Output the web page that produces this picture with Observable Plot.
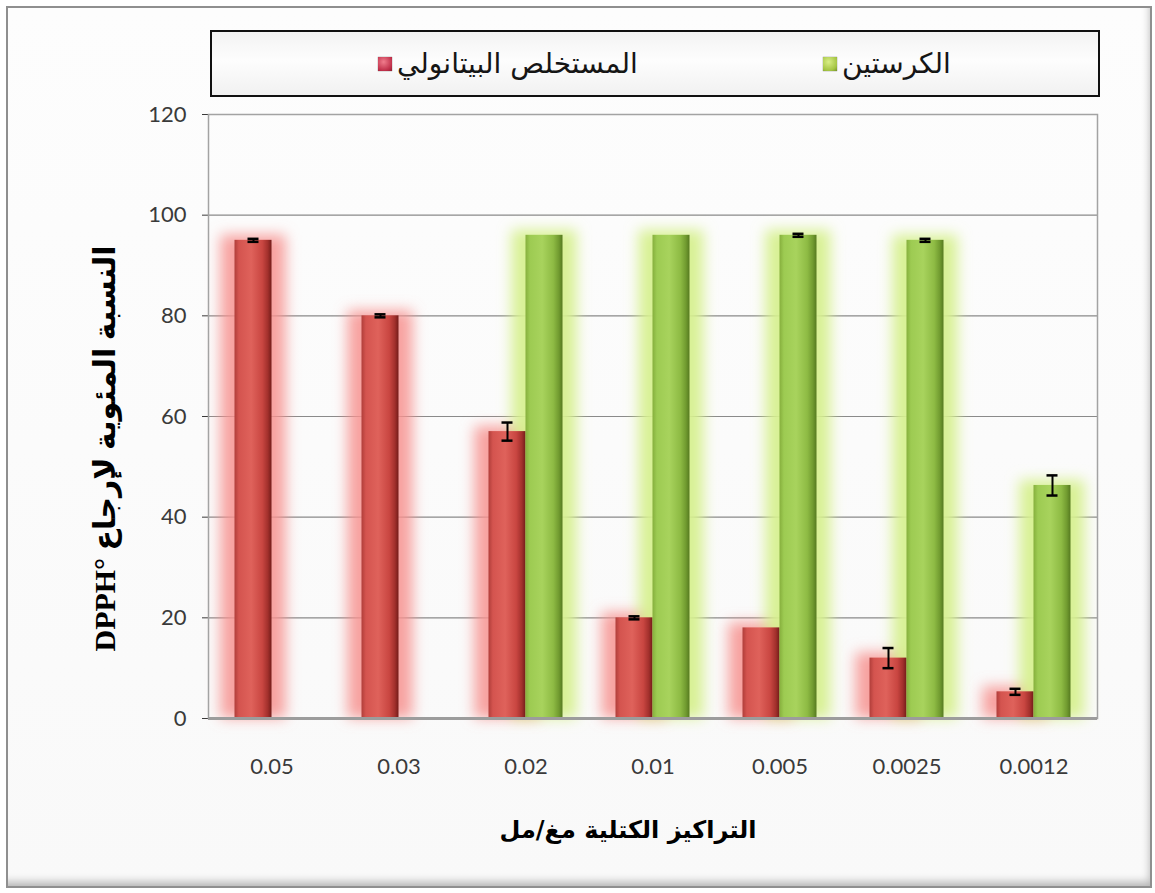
<!DOCTYPE html>
<html>
<head>
<meta charset="utf-8">
<script src="https://cdn.jsdelivr.net/npm/d3@7"></script>
<script src="https://cdn.jsdelivr.net/npm/@observablehq/plot@0.6"></script>
<style>
  html, body { margin: 0; padding: 0; background: #fff; }
  #chart { position: relative; width: 1155px; height: 893px; overflow: hidden; background: #fff; }
  #frame {
    position: absolute; left: 6px; top: 6px; width: 1142px; height: 878px;
    border: 2px solid #8f8f8f;
    background: linear-gradient(#fdfdfd, #f9f9f9);
    box-shadow: inset -5px -9px 9px -5px rgba(0,0,0,0.28);
  }
  #legend {
    position: absolute; left: 210px; top: 30px; width: 886px; height: 63px;
    border: 2px solid #111;
    background: linear-gradient(#f3f3f3, #fdfdfd 45%, #f1f1f1);
    font-family: "DejaVu Sans", sans-serif; font-size: 28px; color: #151515;
  }
  #legend .item { position: absolute; top: 0; height: 63px; display: flex; align-items: center; gap: 5px; white-space: nowrap; }
  #legend .sw { width: 14px; height: 14px; display: inline-block; box-shadow: 0 0 1px rgba(0,0,0,0.6); }
  #legend .sw.s0 { background: radial-gradient(circle at 40% 35%, #f07c8c, #c0304a 70%, #8e1f33); }
  #legend .sw.s1 { background: radial-gradient(circle at 40% 35%, #d9ee86, #a4c443 70%, #74922a); }
  #plot { position: absolute; left: 0; top: 0; }
</style>
</head>
<body>
<div id="chart">
  <div id="frame"></div>
  <div id="plot"></div>
  <div id="legend"></div>
</div>
<script>
// Mass concentrations (mg/mL), left to right
const concentrations = ["0.05", "0.03", "0.02", "0.01", "0.005", "0.0025", "0.0012"];

// Series names
const seriesNames = ["المستخلص البيتانولي", "الكرستين"];

// Butanol extract: % DPPH reduction and standard deviation
const butanolMean = [95, 80, 57, 20, 18, 12, 5.3];
const butanolSD   = [0.3, 0.3, 1.8, 0.3, 0, 2, 0.6];

// Quercetin: % DPPH reduction and standard deviation (not measured at the two highest concentrations)
const quercetinMean = [null, null, 96, 96, 96, 95, 46.3];
const quercetinSD   = [null, null, 0, 0, 0.3, 0.3, 2];

const yTicks = [0, 20, 40, 60, 80, 100, 120];
const xTitle = "التراكيز الكتلية مغ/مل";
const yTitle = "DPPH° النسبة المئوية لإرجاع";

const rows = concentrations.map((c, i) => ({
  c, b: butanolMean[i], bsd: butanolSD[i], q: quercetinMean[i], qsd: quercetinSD[i]
}));
const qRows = rows.filter(d => d.q != null);
const bErr = rows.filter(d => d.bsd > 0);
const qErr = rows.filter(d => d.qsd > 0);

// Geometry inside each concentration band: two touching bars centred on the band
const half = 63.5, barW = 37, capW = 11, glowPad = 14;

const chart = Plot.plot({
  width: 1155,
  height: 893,
  marginLeft: 208,
  marginRight: 58,
  marginTop: 114,
  marginBottom: 175,
  style: { fontFamily: "Lato, sans-serif", fontSize: "22px", color: "#3a3a3a", background: "transparent" },
  x: { domain: concentrations, padding: 0, tickSize: 0, tickPadding: 40, label: null },
  y: { domain: [0, 120], ticks: yTicks, tickSize: 6, tickPadding: 16, label: null },
  marks: [
    Plot.ruleY(yTicks.slice(1), { stroke: "#8a8a8a", strokeWidth: 1.2 }),
    // soft halos behind the bars
    Plot.barY(rows, { x: "c", y: d => d.b + 1, fill: "#f7928f", fillOpacity: 0.85,
      insetLeft: half - barW - glowPad, insetRight: half - glowPad, ariaDescription: "glow" }),
    Plot.barY(qRows, { x: "c", y: d => d.q + 1, fill: "#d6f08e", fillOpacity: 0.95,
      insetLeft: half - glowPad, insetRight: half - barW - glowPad, ariaDescription: "glow" }),
    Plot.frame({ stroke: "#a3a3a3", strokeWidth: 1.5 }),
    Plot.barY(rows, { x: "c", y: "b", fill: "url(#barRed)", insetLeft: half - barW, insetRight: half }),
    Plot.barY(qRows, { x: "c", y: "q", fill: "url(#barGreen)", insetLeft: half, insetRight: half - barW }),
    Plot.ruleY([0], { stroke: "#9c9c9c", strokeWidth: 3 }),
    // error bars
    Plot.ruleX(bErr, { x: "c", y1: d => d.b - d.bsd, y2: d => d.b + d.bsd, dx: -barW / 2, stroke: "#000", strokeWidth: 2 }),
    Plot.tickY(bErr, { x: "c", y: d => d.b - d.bsd, stroke: "#000", strokeWidth: 2.5,
      insetLeft: half - barW / 2 - capW / 2, insetRight: half + barW / 2 - capW / 2 }),
    Plot.tickY(bErr, { x: "c", y: d => d.b + d.bsd, stroke: "#000", strokeWidth: 2.5,
      insetLeft: half - barW / 2 - capW / 2, insetRight: half + barW / 2 - capW / 2 }),
    Plot.ruleX(qErr, { x: "c", y1: d => d.q - d.qsd, y2: d => d.q + d.qsd, dx: barW / 2, stroke: "#000", strokeWidth: 2 }),
    Plot.tickY(qErr, { x: "c", y: d => d.q - d.qsd, stroke: "#000", strokeWidth: 2.5,
      insetLeft: half + barW / 2 - capW / 2, insetRight: half - barW / 2 - capW / 2 }),
    Plot.tickY(qErr, { x: "c", y: d => d.q + d.qsd, stroke: "#000", strokeWidth: 2.5,
      insetLeft: half + barW / 2 - capW / 2, insetRight: half - barW / 2 - capW / 2 }),
    // axis titles
    Plot.text([yTitle], { text: d => d, frameAnchor: "left", textAnchor: "middle", lineAnchor: "middle",
      dx: -103, dy: 32, rotate: -90, fontSize: 30, fontWeight: "bold",
      fontFamily: "'Liberation Serif', 'DejaVu Sans', serif", fill: "#000" }),
    Plot.text([xTitle], { text: d => d, frameAnchor: "bottom", textAnchor: "middle", lineAnchor: "middle",
      dx: -25, dy: 112, fontSize: 24, fontWeight: "bold", fontFamily: "'DejaVu Sans', sans-serif", fill: "#000" })
  ]
});

// Gradients for the cylinder-like bars and the blur for the halos
const svg = d3.select(chart);
const defs = svg.insert("defs", ":first-child");
function gradient(id, stops) {
  const g = defs.append("linearGradient").attr("id", id).attr("x1", 0).attr("x2", 1).attr("y1", 0).attr("y2", 0);
  stops.forEach(([o, c]) => g.append("stop").attr("offset", o).attr("stop-color", c));
}
gradient("barRed", [[0, "#b03e3a"], [0.12, "#d4544f"], [0.45, "#df625b"], [0.75, "#c94641"], [0.9, "#a2302c"], [1, "#731c19"]]);
gradient("barGreen", [[0, "#86af3d"], [0.12, "#9dcb52"], [0.45, "#a8d35d"], [0.75, "#8ebb44"], [0.9, "#719b30"], [1, "#567a20"]]);
defs.append("filter").attr("id", "halo").attr("filterUnits", "userSpaceOnUse")
  .attr("x", 0).attr("y", 0).attr("width", 1155).attr("height", 893)
  .append("feGaussianBlur").attr("stdDeviation", 7);
svg.selectAll('g[aria-description="glow"]').attr("filter", "url(#halo)");

document.getElementById("plot").appendChild(chart);

// Legend
const legendPos = [166, 611];
const legend = d3.select("#legend");
seriesNames.forEach((name, i) => {
  const item = legend.append("div").attr("class", "item").style("left", legendPos[i] + "px");
  item.append("span").attr("class", "sw s" + i);
  item.append("span").attr("dir", "rtl").text(name);
});
</script>
</body>
</html>
